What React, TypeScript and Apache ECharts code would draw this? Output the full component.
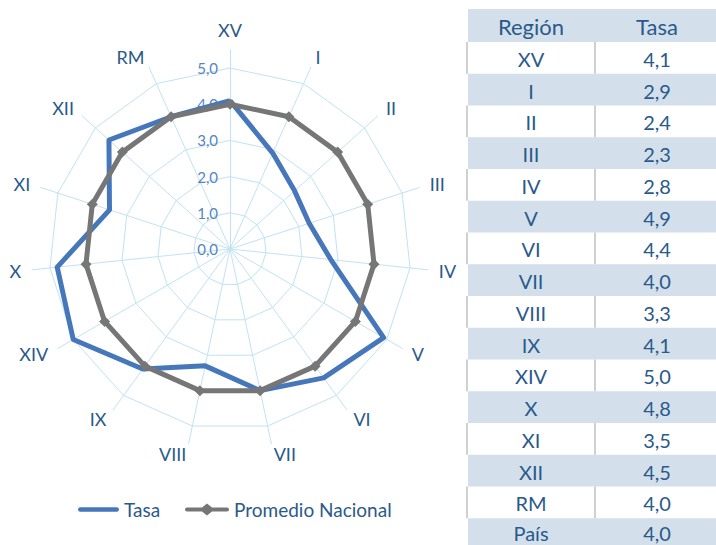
import React, { useEffect, useRef } from "react";
import * as echarts from "echarts";

// Regions in clockwise order starting at the top
const regions = ["XV", "I", "II", "III", "IV", "V", "VI", "VII", "VIII", "IX", "XIV", "X", "XI", "XII", "RM"];
const tasa = [4.1, 2.9, 2.4, 2.3, 2.8, 4.9, 4.4, 4.0, 3.3, 4.1, 5.0, 4.8, 3.5, 4.5, 4.0];
const promedio = [4.0, 4.0, 4.0, 4.0, 4.0, 4.0, 4.0, 4.0, 4.0, 4.0, 4.0, 4.0, 4.0, 4.0, 4.0];
const paisLabel = "País";
const paisValue = 4.0;
const tableHeader = ["Región", "Tasa"];
const scaleTicks = [0, 1, 2, 3, 4, 5];

const FONT = "Lato";
const TEXT_COLOR = "#2A5A8A";
const BLUE = "#4677BA";
const GRAY = "#767676";
const GRID = "#BFE3F3";
const ROW_FILL = "#D3E0EC";

const fmt = (v: number) => v.toFixed(1).replace(".", ",");

// ECharts radar runs counter-clockwise; reorder so it reads clockwise
const ccw = <T,>(arr: T[]): T[] => [arr[0], ...arr.slice(1).reverse()];

export default function App() {
  const ref = useRef<HTMLDivElement>(null);
  useEffect(() => {
    if (!ref.current) return;
    const chart = echarts.init(ref.current, undefined, { renderer: "svg" });
    const names = ccw(regions);
    const cx = 230;
    const cy = 249;
    const indicator0 = names.map((n, i) =>
      i === 0
        ? {
            name: n,
            min: 0,
            max: scaleTicks[scaleTicks.length - 1],
            axisLabel: {
              show: true,
              formatter: (v: number) => fmt(v),
              color: "#5685C2",
              fontSize: 15,
              fontFamily: FONT,
              margin: 12,
            },
          }
        : { name: n, min: 0, max: scaleTicks[scaleTicks.length - 1] }
    );
    const indicator1 = names.map((n) => ({ name: n, min: 0, max: 5.5 }));

    // table
    const tableX = 468;
    const tableW = 248;
    const headerTop = 9;
    const headerH = 33;
    const rowH = 31.75;
    const col1 = 531;
    const col2 = 657;
    const rows = [...regions.map((r, i) => [r, fmt(tasa[i])]), [paisLabel, fmt(paisValue)]];
    const graphics: any[] = [];
    graphics.push({
      type: "rect",
      shape: { x: tableX, y: headerTop, width: tableW, height: headerH },
      style: { fill: ROW_FILL },
    });
    tableHeader.forEach((h, k) => {
      graphics.push({
        type: "text",
        x: k === 0 ? col1 : col2,
        y: headerTop + headerH / 2 + 1,
        style: { text: h, fill: TEXT_COLOR, font: `22px ${FONT}`, align: "center", verticalAlign: "middle", lineHeight: 22 },
      });
    });
    rows.forEach((r, i) => {
      const y = headerTop + headerH + i * rowH;
      if (i % 2 === 1) {
        graphics.push({
          type: "rect",
          shape: { x: tableX, y, width: tableW, height: rowH },
          style: { fill: ROW_FILL },
        });
      } else {
        graphics.push({
          type: "line",
          shape: { x1: tableX - 1, y1: y, x2: tableX - 1, y2: y + rowH },
          style: { stroke: "#D0D0D0", lineWidth: 2 },
        });
        graphics.push({
          type: "line",
          shape: { x1: 595, y1: y, x2: 595, y2: y + rowH },
          style: { stroke: "#D0D0D0", lineWidth: 2 },
        });
      }
      r.forEach((t, k) => {
        graphics.push({
          type: "text",
          x: k === 0 ? col1 : col2,
          y: y + rowH / 2 + (i === rows.length - 1 ? -1 : 1),
          style: { text: t, fill: TEXT_COLOR, font: `20px ${FONT}`, align: "center", verticalAlign: "middle", lineHeight: 20 },
        });
      });
    });

    chart.setOption({
      animation: false,
      backgroundColor: "#FFFFFF",
      textStyle: { fontFamily: FONT },
      radar: [
        {
          center: [cx, cy],
          radius: 181,
          startAngle: 90,
          shape: "polygon",
          splitNumber: 5,
          indicator: indicator0,
          axisName: { color: TEXT_COLOR, fontSize: 18, fontFamily: FONT },
          nameGap: 29,
          axisLine: { show: false },
          axisTick: { show: false },
          axisLabel: { show: false },
          splitLine: { show: true, lineStyle: { color: GRID, width: 1 } },
          splitArea: { show: false },
        },
        {
          center: [cx, cy],
          radius: 199,
          startAngle: 90,
          shape: "polygon",
          splitNumber: 1,
          indicator: indicator1,
          axisName: { show: false },
          axisLine: { show: true, lineStyle: { color: GRID, width: 1 } },
          axisTick: { show: false },
          axisLabel: { show: false },
          splitLine: { show: false },
          splitArea: { show: false },
        },
      ],
      legend: [
        {
          left: 73,
          top: 495,
          data: [{ name: "Tasa", icon: "path://M2.5,0 L41.5,0 A2.5,2.5 0 0 1 41.5,5 L2.5,5 A2.5,2.5 0 0 1 2.5,0 Z" }],
          itemWidth: 41,
          itemHeight: 5,
          textStyle: { color: TEXT_COLOR, fontSize: 19, fontFamily: FONT },
          selectedMode: false,
        },
        {
          left: 180,
          top: 495,
          data: [
            {
              name: "Promedio Nacional",
              icon: "path://M2,4 L17,4 L22,0 L27,4 L42,4 A2,2 0 0 1 42,8 L27,8 L22,12 L17,8 L2,8 A2,2 0 0 1 2,4 Z",
            },
          ],
          itemWidth: 44,
          itemHeight: 12,
          textStyle: { color: TEXT_COLOR, fontSize: 19, fontFamily: FONT },
          selectedMode: false,
        },
      ],
      series: [
        {
          type: "radar",
          radarIndex: 0,
          name: "Tasa",
          z: 2,
          symbol: "none",
          lineStyle: { color: BLUE, width: 5 },
          itemStyle: { color: BLUE },
          data: [{ name: "Tasa", value: ccw(tasa) }],
        },
        {
          type: "radar",
          radarIndex: 0,
          name: "Promedio Nacional",
          z: 3,
          symbol: "diamond",
          symbolSize: 11,
          lineStyle: { color: GRAY, width: 5 },
          itemStyle: { color: GRAY },
          data: [{ name: "Promedio Nacional", value: ccw(promedio) }],
        },
      ],
      graphic: graphics,
    });
    return () => chart.dispose();
  }, []);
  return <div ref={ref} style={{ position: "fixed", left: 0, top: 0, width: 716, height: 545 }} />;
}
